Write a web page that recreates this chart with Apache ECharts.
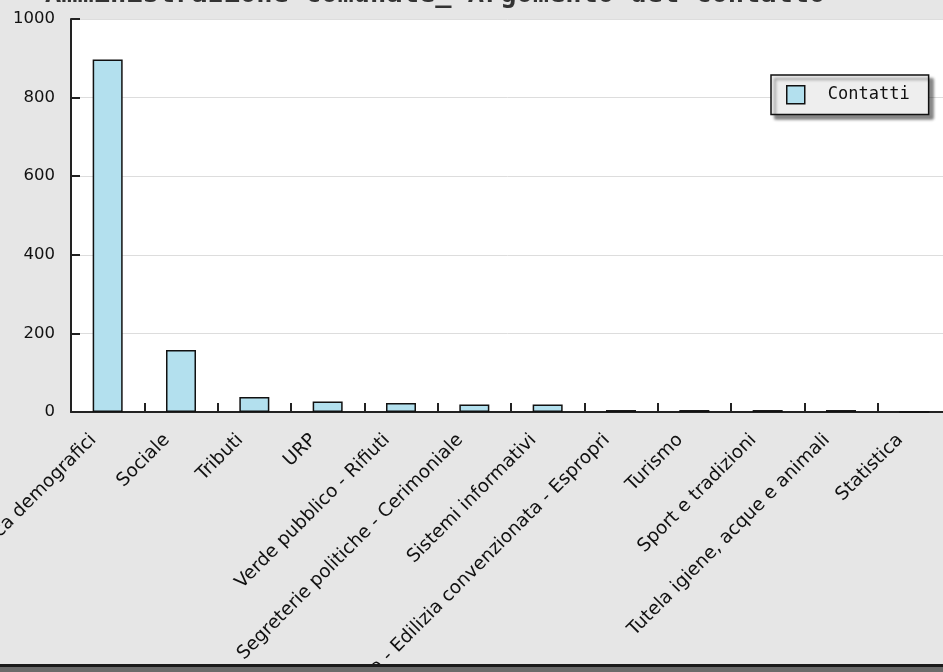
<!DOCTYPE html>
<html>
<head>
<meta charset="utf-8">
<script src="https://cdn.jsdelivr.net/npm/echarts@6/dist/echarts.min.js"></script>
<style>
html,body{margin:0;padding:0;background:#e6e6e6;}
#chart{width:943px;height:672px;}
</style>
</head>
<body>
<div id="chart"></div>
<script>
const titleText = 'Amministrazione comunale_ Argomento del contatto';
const seriesName = 'Contatti';
const categories = [
  'Servizi anagrafe e statistica demografici',
  'Sociale',
  'Tributi',
  'URP',
  'Verde pubblico - Rifiuti',
  'Segreterie politiche - Cerimoniale',
  'Sistemi informativi',
  'Urbanistica - Edilizia convenzionata - Espropri',
  'Turismo',
  'Sport e tradizioni',
  'Tutela igiene, acque e animali',
  'Statistica'
];
const contatti = [897, 158, 38, 27, 23, 19, 19, 5, 5, 5, 5, 0];
const yTicks = [0, 200, 400, 600, 800, 1000];

const chart = echarts.init(document.getElementById('chart'), null, {renderer: 'canvas'});
chart.setOption({
  backgroundColor: '#e6e6e6',
  animation: false,
  title: {
    text: titleText,
    left: 40,
    top: -24,
    textStyle: {fontFamily: 'DejaVu Sans Mono', fontSize: 27, fontWeight: 'bold', color: '#333'}
  },
  legend: {
    data: [seriesName],
    icon: 'rect',
    left: 771,
    top: 75,
    backgroundColor: '#eeeeee',
    borderColor: '#111',
    borderWidth: 1.5,
    borderRadius: 0,
    padding: [10, 19, 10, 15],
    itemWidth: 18,
    itemHeight: 18,
    itemStyle: {borderColor: '#111', borderWidth: 1.5},
    shadowColor: 'rgba(0,0,0,0.45)',
    shadowBlur: 3,
    shadowOffsetX: 4,
    shadowOffsetY: 4,
    textStyle: {fontFamily: 'DejaVu Sans Mono', fontSize: 17, color: '#111', padding: [0, 0, 0, 18]}
  },
  grid: {
    left: 71,
    top: 19,
    width: 880,
    bottom: 260,
    show: true,
    backgroundColor: '#ffffff',
    borderWidth: 0,
    containLabel: false,
    outerBoundsMode: 'none'
  },
  xAxis: {
    type: 'category',
    data: categories,
    axisLine: {lineStyle: {color: '#222', width: 2}},
    axisTick: {show: true, inside: true, length: 9, lineStyle: {color: '#222', width: 2}},
    axisLabel: {
      interval: 0,
      rotate: 45,
      margin: 11,
      padding: [0, 20, 0, 0],
      fontFamily: 'DejaVu Sans',
      fontSize: 18.5,
      color: '#111'
    }
  },
  yAxis: {
    type: 'value',
    min: yTicks[0],
    max: yTicks[yTicks.length - 1],
    interval: 200,
    axisLine: {show: true, lineStyle: {color: '#222', width: 2}},
    axisTick: {show: true, inside: true, length: 9, lineStyle: {color: '#222', width: 2}},
    axisLabel: {margin: 16, fontFamily: 'DejaVu Sans', fontSize: 16.5, color: '#111', formatter: function (v) { return String(v); }},
    splitLine: {show: true, lineStyle: {color: '#dddddd', width: 1}}
  },
  series: [{
    name: seriesName,
    type: 'bar',
    data: contatti,
    barWidth: 30,
    itemStyle: {color: '#b3e0ee', borderColor: '#111', borderWidth: 1.5}
  }],
  graphic: [
    {type: 'rect', left: 0, top: 664, shape: {width: 943, height: 3}, style: {fill: '#1a1a1a'}, z: 100},
    {type: 'rect', left: 0, top: 667, shape: {width: 943, height: 5}, style: {fill: '#6a6a6a'}, z: 100}
  ]
});
</script>
</body>
</html>
